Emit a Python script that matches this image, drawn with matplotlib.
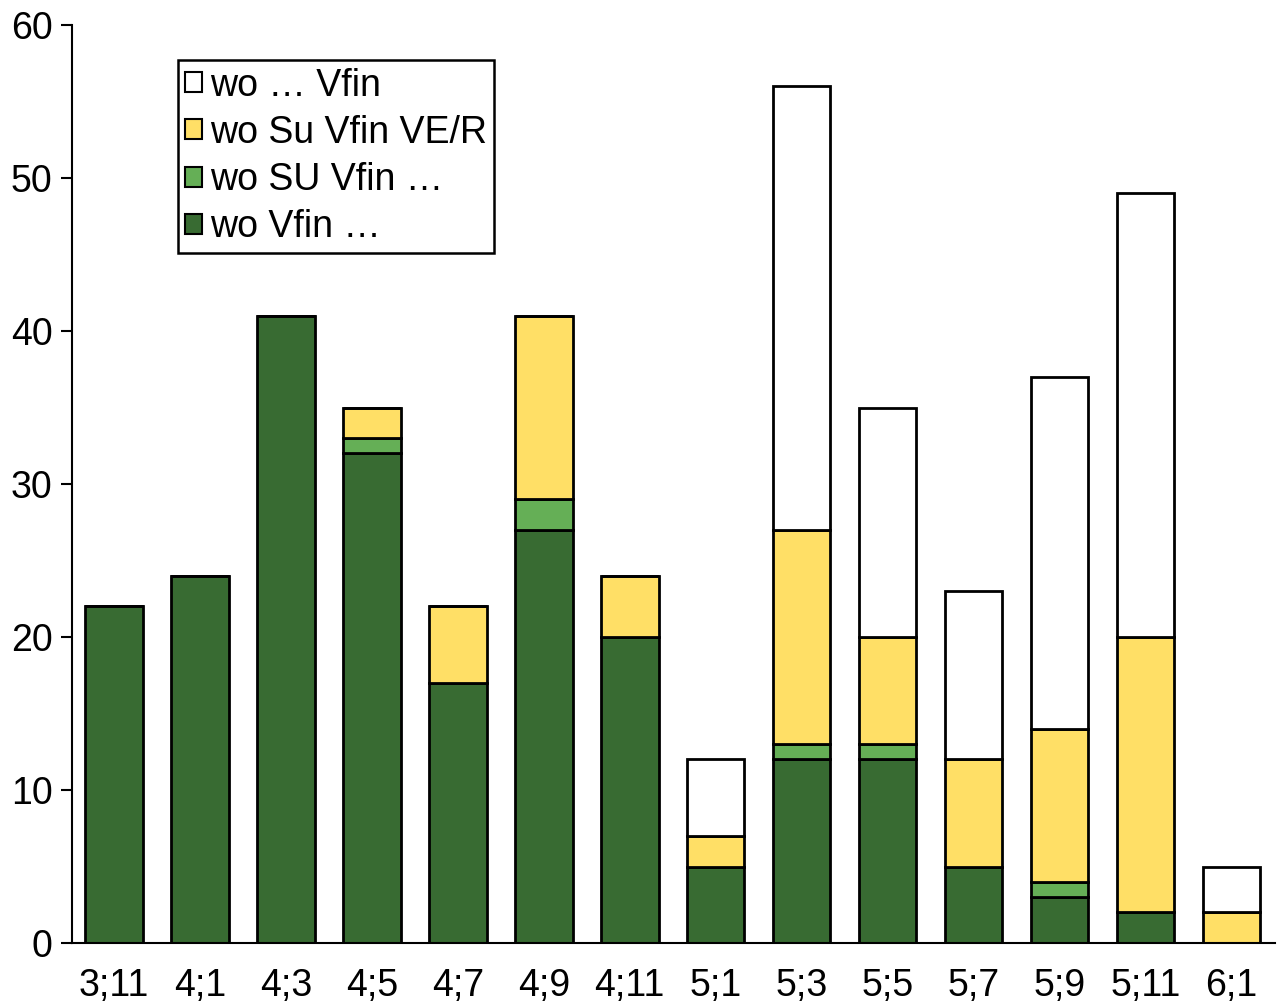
import numpy as np
import matplotlib.pyplot as plt

plt.rcParams["font.family"] = ["Liberation Sans", "DejaVu Sans"]

ages = ["3;11", "4;1", "4;3", "4;5", "4;7", "4;9", "4;11",
        "5;1", "5;3", "5;5", "5;7", "5;9", "5;11", "6;1"]
wo_vfin = [22, 24, 41, 32, 17, 27, 20, 5, 12, 12, 5, 3, 2, 0]
wo_SU_vfin = [0, 0, 0, 1, 0, 2, 0, 0, 1, 1, 0, 1, 0, 0]
wo_su_vfin_ver = [0, 0, 0, 2, 5, 12, 4, 2, 14, 7, 7, 10, 18, 2]
wo_dots_vfin = [0, 0, 0, 0, 0, 0, 0, 5, 29, 15, 11, 23, 29, 3]

series = [
    ("wo Vfin …", wo_vfin, "#386B32"),
    ("wo SU Vfin …", wo_SU_vfin, "#65AF56"),
    ("wo Su Vfin VE/R", wo_su_vfin_ver, "#FFDF66"),
    ("wo … Vfin", wo_dots_vfin, "#FFFFFF"),
]

fig = plt.figure(figsize=(12.79, 10.05), dpi=100)
ax = fig.add_axes([0.0563, 0.0617, 0.9407, 0.9133])

x = np.arange(len(ages))
bottom = np.zeros(len(ages))
handles = []
for label, vals, color in series:
    vals = np.array(vals, dtype=float)
    h = ax.bar(x, vals, width=0.67, bottom=bottom, color=color,
               edgecolor="black", linewidth=2.0, label=label)
    handles.append(h)
    bottom += vals

ax.set_xlim(-0.49, 13.51)
ax.set_ylim(0, 60)
ax.set_yticks(range(0, 61, 10))
ax.set_xticks(x)
ax.set_xticklabels(ages)
ax.tick_params(axis="x", length=0, pad=18, labelsize=27)
ax.tick_params(axis="y", length=8, width=1.5, pad=6, labelsize=27, direction="out")
for s in ["top", "right"]:
    ax.spines[s].set_visible(False)
for s in ["left", "bottom"]:
    ax.spines[s].set_linewidth(1.5)

leg = ax.legend(handles[::-1], [s[0] for s in series][::-1],
                loc="upper left", bbox_to_anchor=(0.088, 0.962),
                fontsize=27, frameon=True, fancybox=False, framealpha=1,
                handlelength=0.45, handleheight=0.45, handletextpad=0.2,
                borderpad=0.2, labelspacing=0.3, borderaxespad=0)
leg.get_frame().set_edgecolor("black")
leg.get_frame().set_linewidth(1.8)
for p in leg.get_patches():
    p.set_linewidth(1.5)

fig.savefig("out.png", dpi=100)
